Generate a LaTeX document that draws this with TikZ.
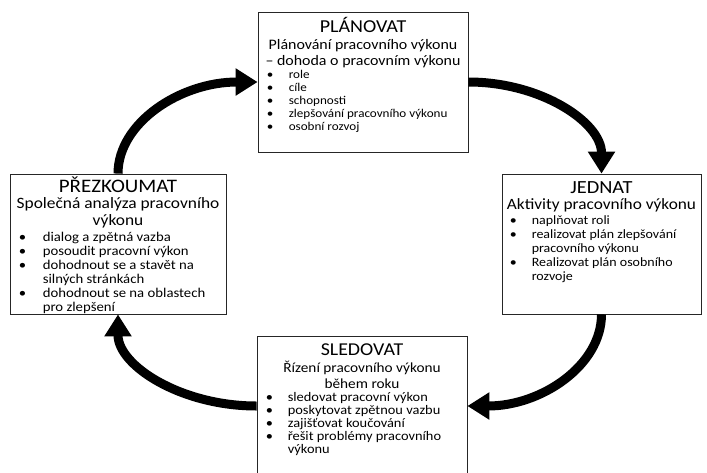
\documentclass[tikz,border=0pt]{standalone}
\usepackage{fontspec}
\setmainfont{Carlito}[FakeStretch=1.1]
\usetikzlibrary{arrows.meta,shadows,calc}
\newcommand\fs[2]{\fontsize{#1}{#2}\selectfont}
\newcommand\blist[2][22pt]{\begin{tabular}[t]{@{}p{#1}@{}l@{}}#2\end{tabular}}
\newcommand\sublines[1]{\begin{tabular}[t]{@{}c@{}}#1\end{tabular}}
\newcommand\bul{\textbullet}
\tikzset{
  box/.style={draw=black!85, line width=0.8pt, fill=white, inner sep=0pt,
    drop shadow={shadow xshift=1.3pt, shadow yshift=-1.3pt, opacity=0.35, fill=gray}},
  ttl/.style={anchor=base, inner sep=0pt},
  sub/.style={anchor=base, inner sep=0pt},
  lst/.style={anchor=base west, inner sep=0pt},
  arr/.style={line width=9pt, -{Triangle[length=22pt,width=26pt]}}
}
\begin{document}
\begin{tikzpicture}[x=1pt,y=-1pt]
\useasboundingbox (0,0) rectangle (707,472);
\clip (0,0) rectangle (707,472);
\fill[white] (0,0) rectangle (707,472);

% boxes
\node[box, minimum width=210pt, minimum height=140pt] (plan) at (363,82) {};
\node[box, minimum width=216pt, minimum height=140pt] (prez) at (118,244) {};
\node[box, minimum width=199pt, minimum height=140pt] (jed) at (601.5,244) {};
\node[box, minimum width=210pt, minimum height=140pt] (sled) at (362,406) {};

% PLANOVAT
\node[ttl, font=\fs{18.2}{20}] (planT) at ($(plan.north)+(0,21)$) {PLÁNOVAT};
\node[sub, font=\fs{14.5}{16}] (planS) at ($(plan.north)+(0,38)$) {\sublines{Plánování pracovního výkonu\\– dohoda o pracovním výkonu}};
\node[lst, font=\fs{11.9}{13}] (planL) at ($(plan.north west)+(9,67)$) {\blist{\bul & role\\ \bul & cíle\\ \bul & schopnosti\\ \bul & zlepšování pracovního výkonu\\ \bul & osobní rozvoj}};

% PREZKOUMAT
\node[ttl, font=\fs{19.1}{20}] (prezT) at ($(prez.north)+(0,19)$) {PŘEZKOUMAT};
\node[sub, font=\fs{15.8}{16.6}] (prezS) at ($(prez.north)+(0,35)$) {\sublines{Společná analýza pracovního\\výkonu}};
\node[lst, font=\fs{13.4}{14}] (prezL) at ($(prez.north west)+(9,68)$) {\blist[24pt]{\bul & dialog a zpětná vazba\\ \bul & posoudit pracovní výkon\\ \bul & dohodnout se a stavět na\\ & silných stránkách\\ \bul & dohodnout se na oblastech\\ & pro zlepšení}};

% JEDNAT
\node[ttl, font=\fs{18.5}{20}] (jedT) at ($(jed.north)+(0,20)$) {JEDNAT};
\node[sub, font=\fs{15.7}{17}] (jedS) at ($(jed.north)+(0,36)$) {Aktivity pracovního výkonu};
\node[lst, font=\fs{12.7}{13.9}] (jedL) at ($(jed.north west)+(8,51)$) {\blist{\bul & naplňovat roli\\ \bul & realizovat plán zlepšování\\ & pracovního výkonu\\ \bul & Realizovat plán osobního\\ & rozvoje}};

% SLEDOVAT
\node[ttl, font=\fs{18.1}{20}] (sledT) at ($(sled.north)+(0,20)$) {SLEDOVAT};
\node[sub, font=\fs{13.9}{16.3}] (sledS) at ($(sled.north)+(0,37)$) {\sublines{Řízení pracovního výkonu\\během roku}};
\node[lst, font=\fs{13.1}{13}] (sledL) at ($(sled.north west)+(9,66)$) {\blist{\bul & sledovat pracovní výkon\\ \bul & poskytovat zpětnou vazbu\\ \bul & zajišťovat koučování\\ \bul & řešit problémy pracovního\\ & výkonu}};

% cycle arrows
\draw[arr] (prez.north) .. controls +(0,-51) and +(-77,0) .. (plan.west);
\draw[arr] (plan.east) .. controls +(73,0) and +(0,-51) .. (jed.north);
\draw[arr] (jed.south) .. controls +(0,51) and +(74,0) .. (sled.east);
\draw[arr] (sled.west) .. controls +(-76,0) and +(0,51) .. (prez.south);
\end{tikzpicture}
\end{document}
